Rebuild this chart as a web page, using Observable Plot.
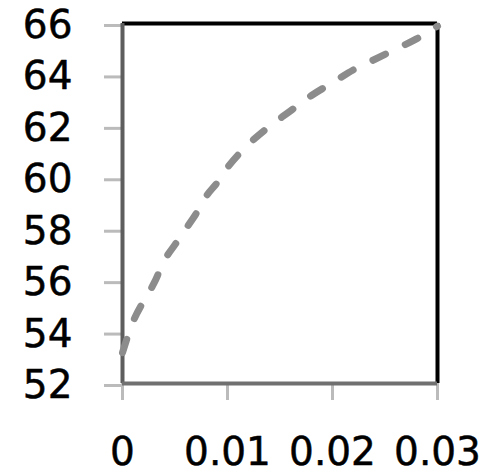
<!DOCTYPE html>
<html>
<head>
<meta charset="utf-8">
<script src="https://cdn.jsdelivr.net/npm/d3@7"></script>
<script src="https://cdn.jsdelivr.net/npm/@observablehq/plot@0.6"></script>
<style>
  html, body { margin: 0; padding: 0; background: #fff; }
</style>
</head>
<body>
<div id="chart"></div>
<script>
const xValues = [0, 0.001, 0.002, 0.003, 0.004, 0.005, 0.006, 0.007, 0.008, 0.009, 0.010, 0.012, 0.014, 0.016, 0.018, 0.020, 0.022, 0.024, 0.026, 0.028, 0.030];
const yValues = [53.2, 54.4, 55.2, 55.9, 56.8, 57.4, 58.0, 58.6, 59.3, 59.8, 60.4, 61.3, 62.0, 62.6, 63.2, 63.7, 64.2, 64.6, 65.0, 65.4, 65.9];
const xTicks = [0, 0.01, 0.02, 0.03];
const xTickLabels = ["0", "0.01", "0.02", "0.03"];
const yTicks = [52, 54, 56, 58, 60, 62, 64, 66];

const data = xValues.map((x, i) => ({x, y: yValues[i]}));

const chart = Plot.plot({
  width: 488,
  height: 475,
  marginLeft: 122,
  marginRight: 51,
  marginTop: 23,
  marginBottom: 92,
  style: {fontFamily: "DejaVu Sans", fontSize: "39px", color: "#000", background: "#fff"},
  x: {domain: [0, 0.03]},
  y: {domain: [52, 66]},
  marks: [
    Plot.axisY({ticks: yTicks, label: null, tickSize: 18, tickPadding: 32, stroke: "#bbb", strokeWidth: 3, fill: "#000", textStroke: "#000", textStrokeWidth: 0.5, dy: 2}),
    Plot.axisX({ticks: xTicks, label: null, tickFormat: (d, i) => xTickLabels[i], tickSize: 17, tickPadding: 37, stroke: "#bbb", strokeWidth: 3, fill: "#000", textStroke: "#000", textStrokeWidth: 0.5}),
    Plot.ruleY([66], {stroke: "#000", strokeWidth: 4}),
    Plot.ruleX([0.03], {stroke: "#000", strokeWidth: 4}),
    Plot.ruleX([0], {stroke: "#5e5e5e", strokeWidth: 4}),
    Plot.ruleY([52], {stroke: "#707070", strokeWidth: 4}),
    Plot.line(data, {x: "x", y: "y", stroke: "#8c8c8c", strokeWidth: 7, strokeLinecap: "round", strokeDasharray: "14,22", curve: "monotone-x"})
  ]
});
document.getElementById("chart").appendChild(chart);
</script>
</body>
</html>
